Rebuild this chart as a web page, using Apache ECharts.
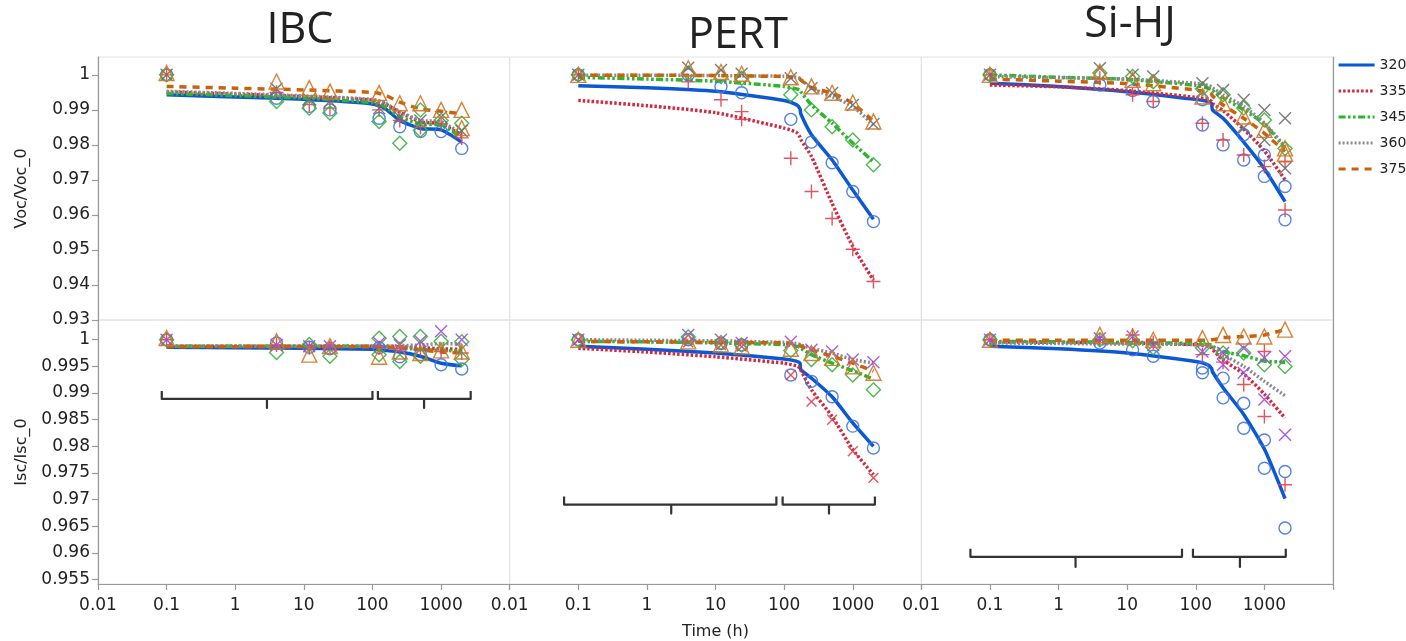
<!DOCTYPE html>
<html><head><meta charset="utf-8">
<script src="https://cdn.jsdelivr.net/npm/echarts@6/dist/echarts.min.js"></script>
<style>html,body{margin:0;padding:0;background:#fff;}#c{width:1406px;height:641px;}</style>
</head><body><div id="c"></div><script>
// ---------- data ----------
const VARIANTS = ['320', '335', '345', '360', '375'];
const PANELS = ['IBC', 'PERT', 'Si-HJ'];
const TIME_PTS = [0.1, 4, 12, 24, 125, 250, 500, 1000, 2000];
const FIT_T_IBC = [0.1, 1, 10, 100, 150, 250, 500, 1000, 2000];
const FIT_T = [0.1, 1, 10, 100, 150, 170, 175, 250, 500, 1000, 2000];
const VOC_TICKS = [0.93, 0.94, 0.95, 0.96, 0.97, 0.98, 0.99, 1.0];
const ISC_TICKS = [0.955, 0.96, 0.965, 0.97, 0.975, 0.98, 0.985, 0.99, 0.995, 1.0];
const VOC_RANGE = [0.93, 1.0051];
const ISC_RANGE = [0.9542, 1.0037];
const X_RANGE = [0.01, 10000];

// measured points (rows: 320, 335, 345, 360, 375; columns follow TIME_PTS)
const IBC_VOC_PTS = [
  [1.0, 0.9933, 0.9910, 0.9900, 0.9876, 0.9852, 0.9838, 0.9838, 0.9790],
  [1.0, 0.9950, 0.9915, 0.9905, 0.9900, 0.9870, 0.9850, 0.9860, 0.9820],
  [1.0, 0.9924, 0.9905, 0.9891, 0.9867, 0.9805, 0.9900, 0.9870, 0.9862],
  [1.0, 0.9960, 0.9930, 0.9925, 0.9905, 0.9880, 0.9870, 0.9880, 0.9840],
  [1.0005, 0.9981, 0.9962, 0.9952, 0.9948, 0.9919, 0.9919, 0.9900, 0.9900]
];
const IBC_VOC_EXTRA = [[4, 2000, 0.9848], [2, 500, 0.9842]];
const IBC_ISC_PTS = [
  [1.0, 0.9994, 0.9986, 0.9983, 0.9985, 0.9968, 0.9972, 0.9953, 0.9945],
  [1.0, 0.9990, 0.9985, 0.9985, 0.9985, 0.9983, 0.9982, 0.9978, 0.9975],
  [1.0, 0.9976, 0.9991, 0.9969, 1.0003, 1.0006, 1.0006, 0.9997, 0.9996],
  [1.0, 0.9990, 0.9988, 0.9988, 0.9994, 0.9990, 0.9997, 1.0016, 1.0],
  [1.0003, 0.9997, 0.9972, 0.9988, 0.9968, 0.9978, 0.9975, 0.9980, 0.9978]
];
const IBC_ISC_EXTRA = [[2, 125, 0.9972], [2, 250, 0.9959], [2, 500, 0.9969], [2, 2000, 0.9963]];
const PERT_VOC_PTS = [
  [1.0, 1.0, 0.9967, 0.9949, 0.9873, 0.9808, 0.9749, 0.9667, 0.9581],
  [1.0, 0.9980, 0.9929, 0.9895, 0.9762, 0.9667, 0.9590, 0.9502, 0.9410],
  [1.0, 1.0005, 0.9995, 0.9990, 0.9943, 0.9900, 0.9852, 0.9814, 0.9743],
  [1.0, 1.0020, 1.0014, 1.0003, 0.9990, 0.9962, 0.9948, 0.9914, 0.9860],
  [1.0, 1.0019, 1.0008, 1.0003, 0.9993, 0.9967, 0.9949, 0.9921, 0.9867]
];
const PERT_VOC_EXTRA = [[1, 24, 0.9873]];
const PERT_ISC_PTS = [
  [1.0, 1.0, 0.9993, 0.9990, 0.9934, 0.9922, 0.9893, 0.9838, 0.9797],
  [1.0, 0.9995, 0.9990, 0.9987, 0.9934, 0.9884, 0.9850, 0.9791, 0.9741],
  [1.0, 1.0005, 0.9995, 0.9990, 0.9980, 0.9963, 0.9953, 0.9934, 0.9906],
  [1.0, 1.0009, 1.0, 0.9994, 0.9996, 0.9981, 0.9978, 0.9963, 0.9958],
  [1.0, 0.9997, 0.9991, 0.9987, 0.9983, 0.9975, 0.9966, 0.9950, 0.9938]
];
const PERT_ISC_EXTRA = [];
const SIHJ_VOC_PTS = [
  [1.0, 0.9971, 0.9955, 0.9924, 0.9929, 0.9800, 0.9829, 0.9771, 0.9681],
  [1.0, 0.9990, 0.9943, 0.9924, 0.9862, 0.9814, 0.9771, 0.9738, 0.9752],
  [1.0, 1.0005, 0.9995, 0.9980, 0.9960, 0.9943, 0.9905, 0.9871, 0.9790],
  [1.0, 1.0019, 1.0000, 0.9995, 0.9976, 0.9957, 0.9929, 0.9900, 0.9876],
  [1.0, 1.0009, 0.9986, 0.9976, 0.9938, 0.9919, 0.9881, 0.9843, 0.9790]
];
const SIHJ_VOC_EXTRA = [[0, 125, 0.9857], [0, 500, 0.9757], [0, 1000, 0.9710], [0, 2000, 0.9586],
  [1, 2000, 0.9614], [1, 2000, 1.0055], [3, 500, 0.9848], [3, 1000, 0.9814], [3, 2000, 0.9733], [4, 2000, 0.9775]];
const SIHJ_ISC_PTS = [
  [1.0, 0.9994, 0.9981, 0.9969, 0.9947, 0.9928, 0.9881, 0.9812, 0.9753],
  [1.0, 1.0, 1.0009, 0.9995, 0.9972, 0.9958, 0.9916, 0.9856, 0.9728],
  [1.0, 1.0, 0.9998, 0.9985, 0.9985, 0.9975, 0.9975, 0.9953, 0.9950],
  [1.0, 1.0003, 1.0006, 0.9990, 0.9978, 0.9975, 0.9984, 0.9966, 0.9969],
  [1.0, 1.0009, 1.0006, 1.0, 1.0003, 1.0009, 1.0006, 1.0006, 1.0019]
];
const SIHJ_ISC_EXTRA = [[0, 125, 0.9938], [0, 250, 0.9891], [0, 500, 0.9834], [0, 1000, 0.9759], [0, 2000, 0.9647],
  [1, 1000, 0.9978], [3, 250, 0.9953], [3, 500, 0.9938], [3, 1000, 0.9888], [3, 2000, 0.9822]];

// fitted curves (rows: 320..375; columns follow FIT_T_IBC / FIT_T)
const IBC_VOC_FIT = [
  [0.9943, 0.9937, 0.9930, 0.9917, 0.9905, 0.9870, 0.9847, 0.9843, 0.9808],
  [0.9951, 0.9945, 0.9938, 0.9928, 0.9918, 0.9893, 0.9866, 0.9860, 0.9828],
  [0.9947, 0.9941, 0.9934, 0.9921, 0.9910, 0.9880, 0.9860, 0.9856, 0.9822],
  [0.9953, 0.9947, 0.9940, 0.9930, 0.9920, 0.9895, 0.9870, 0.9866, 0.9832],
  [0.9967, 0.9962, 0.9957, 0.9950, 0.9943, 0.9922, 0.9903, 0.9896, 0.9889]
];
const IBC_ISC_FIT = [
  [0.9986, 0.9985, 0.9984, 0.9982, 0.9980, 0.9977, 0.9969, 0.9956, 0.9951],
  [0.9988, 0.9988, 0.9988, 0.9988, 0.9988, 0.9987, 0.9985, 0.9983, 0.9982],
  [0.9988, 0.9988, 0.9988, 0.9988, 0.9987, 0.9985, 0.9982, 0.9980, 0.9979],
  [0.9988, 0.9988, 0.9988, 0.9988, 0.9988, 0.9989, 0.9990, 0.9993, 0.9992],
  [0.9987, 0.9987, 0.9987, 0.9987, 0.9986, 0.9984, 0.9981, 0.9977, 0.9975]
];
const PERT_VOC_FIT = [
  [0.9969, 0.9963, 0.9953, 0.9927, 0.9915, 0.9903, 0.9888, 0.9829, 0.9757, 0.9671, 0.9588],
  [0.9927, 0.9912, 0.9892, 0.9848, 0.9836, 0.9822, 0.9815, 0.9767, 0.9633, 0.9510, 0.9414],
  [0.9993, 0.9988, 0.9982, 0.9967, 0.9960, 0.9957, 0.9952, 0.9914, 0.9862, 0.9805, 0.9752],
  [0.9999, 0.9999, 0.9998, 0.9996, 0.9993, 0.9990, 0.9987, 0.9962, 0.9938, 0.9910, 0.9857],
  [0.9999, 0.9999, 0.9998, 0.9995, 0.9991, 0.9988, 0.9985, 0.9964, 0.9948, 0.9919, 0.9867]
];
const PERT_ISC_FIT = [
  [0.9988, 0.9982, 0.9975, 0.9964, 0.9960, 0.9956, 0.9944, 0.9928, 0.9893, 0.9844, 0.9800],
  [0.9984, 0.9977, 0.9968, 0.9956, 0.9951, 0.9947, 0.9943, 0.9906, 0.9856, 0.9794, 0.9747],
  [0.9997, 0.9996, 0.9994, 0.9991, 0.9988, 0.9986, 0.9984, 0.9972, 0.9956, 0.9942, 0.9926],
  [1.0000, 0.9999, 0.9998, 0.9995, 0.9993, 0.9991, 0.9990, 0.9984, 0.9975, 0.9963, 0.9956],
  [0.9997, 0.9996, 0.9995, 0.9994, 0.9992, 0.9990, 0.9988, 0.9981, 0.9969, 0.9956, 0.9941]
];
const SIHJ_VOC_FIT = [
  [0.9976, 0.9967, 0.9952, 0.9930, 0.9924, 0.9918, 0.9900, 0.9876, 0.9808, 0.9732, 0.9638],
  [0.9971, 0.9966, 0.9955, 0.9936, 0.9930, 0.9924, 0.9918, 0.9898, 0.9845, 0.9783, 0.9700],
  [1.0000, 0.9993, 0.9987, 0.9970, 0.9962, 0.9958, 0.9955, 0.9935, 0.9900, 0.9860, 0.9790],
  [0.9995, 0.9992, 0.9988, 0.9976, 0.9970, 0.9966, 0.9963, 0.9943, 0.9910, 0.9862, 0.9795],
  [0.9988, 0.9982, 0.9975, 0.9957, 0.9950, 0.9945, 0.9940, 0.9914, 0.9876, 0.9833, 0.9781]
];
const SIHJ_ISC_FIT = [
  [0.9988, 0.9983, 0.9975, 0.9959, 0.9953, 0.9946, 0.9940, 0.9910, 0.9860, 0.9795, 0.9702],
  [0.9996, 0.9995, 0.9994, 0.9991, 0.9988, 0.9985, 0.9982, 0.9962, 0.9936, 0.9898, 0.9853],
  [0.9997, 0.9996, 0.9995, 0.9993, 0.9991, 0.9990, 0.9988, 0.9978, 0.9970, 0.9960, 0.9958],
  [0.9994, 0.9993, 0.9992, 0.9991, 0.9989, 0.9987, 0.9985, 0.9972, 0.9950, 0.9922, 0.9895],
  [0.9999, 0.9999, 0.9999, 0.9999, 0.9999, 1.0000, 1.0000, 1.0004, 1.0006, 1.0009, 1.0019]
];

// bracket annotations in the Isc panels: [start, middle, end] times and [end, bar, tip] levels
const IBC_BRACKETS = [[0.085, 2.9, 100], [120, 565, 2700]];
const IBC_BRACKET_Y = [0.9904, 0.9889, 0.9872];
const PERT_BRACKETS = [[0.062, 2.26, 77], [95, 450, 2100]];
const PERT_BRACKET_Y = [0.9706, 0.9691, 0.9674];
const SIHJ_BRACKETS = [[0.052, 1.77, 63], [91, 440, 2050]];
const SIHJ_BRACKET_Y = [0.9608, 0.9593, 0.9574];

// ---------- styles / layout ----------
const COL_LEFT = [98, 509.7, 921.3];
const COL_W = 411.7;
const ROW_TOP = [57, 320];
const ROW_H = [263, 264];
const LINE_COLORS = ['#0b58d4', '#d3283e', '#2db52d', '#8a8a8a', '#c8630c'];
const LINE_DASH = ['solid', [2.5, 2], [7, 2.5, 2.5, 2.5, 2.5, 2.5], [2, 2], [7, 6]];
const MARK_TOP = ['#4173e0', '#e0414f', '#39b23c', '#6e6e6e', '#d47526'];
const MARK_BOT = ['#4173e0', '#e0414f', '#39b23c', '#a24ae0', '#d47526'];
const SYMBOLS = ['circle', 'path://M0,6L12,6M6,0L6,12', 'diamond', 'path://M0,0L12,12M12,0L0,12', 'triangle'];
const SYM_SIZE = [12, 14, 14, 12, 15];
const FONT = 'DejaVu Sans';

const PANEL_DATA = [
  {pts: IBC_VOC_PTS, extra: IBC_VOC_EXTRA, fit: IBC_VOC_FIT, fitT: FIT_T_IBC},
  {pts: PERT_VOC_PTS, extra: PERT_VOC_EXTRA, fit: PERT_VOC_FIT, fitT: FIT_T},
  {pts: SIHJ_VOC_PTS, extra: SIHJ_VOC_EXTRA, fit: SIHJ_VOC_FIT, fitT: FIT_T},
  {pts: IBC_ISC_PTS, extra: IBC_ISC_EXTRA, fit: IBC_ISC_FIT, fitT: FIT_T_IBC, br: IBC_BRACKETS, brY: IBC_BRACKET_Y},
  {pts: PERT_ISC_PTS, extra: PERT_ISC_EXTRA, fit: PERT_ISC_FIT, fitT: FIT_T, br: PERT_BRACKETS, brY: PERT_BRACKET_Y, rot335: 45},
  {pts: SIHJ_ISC_PTS, extra: SIHJ_ISC_EXTRA, fit: SIHJ_ISC_FIT, fitT: FIT_T, br: SIHJ_BRACKETS, brY: SIHJ_BRACKET_Y}
];

const fmtY = v => String(+(+v).toFixed(3));
const fmtX = v => (v > 5000 ? '' : String(+(+v).toPrecision(4)));

const grids = [], xAxes = [], yAxes = [], series = [];
for (let r = 0; r < 2; r++) {
  for (let c = 0; c < 3; c++) {
    const g = r * 3 + c;
    grids.push({left: COL_LEFT[c], width: COL_W, top: ROW_TOP[r], height: ROW_H[r],
      show: true, borderColor: '#e2e2e2', borderWidth: 1, containLabel: false, outerBoundsMode: 'none'});
    xAxes.push({
      gridIndex: g, type: 'log', logBase: 10, min: X_RANGE[0], max: X_RANGE[1], splitNumber: 6,
      axisLine: {show: r === 1, onZero: false, lineStyle: {color: '#999', width: 1.2}},
      axisTick: {show: r === 1, length: 6, lineStyle: {color: '#999', width: 1.2}},
      axisLabel: {show: r === 1, margin: 13, fontFamily: FONT, fontSize: 17, color: '#222', formatter: fmtX,
        showMinLabel: true, showMaxLabel: true, hideOverlap: false},
      splitLine: {show: false}, minorTick: {show: false},
      name: (r === 1 && c === 1) ? 'Time (h)' : '', nameLocation: 'middle', nameGap: 40,
      nameTextStyle: {fontFamily: FONT, fontSize: 16, color: '#222'}
    });
    const ticks = r === 0 ? VOC_TICKS : ISC_TICKS;
    const range = r === 0 ? VOC_RANGE : ISC_RANGE;
    yAxes.push({
      gridIndex: g, type: 'value', min: range[0], max: range[1], position: c === 2 ? 'right' : 'left',
      axisLine: {show: c !== 1, onZero: false, lineStyle: {color: '#999', width: 1.2}},
      axisTick: {show: c === 0, length: 6, customValues: ticks, lineStyle: {color: '#999', width: 1.2}},
      axisLabel: {show: c === 0, customValues: ticks, formatter: fmtY, fontFamily: FONT, fontSize: 17,
        color: '#222', margin: 8, hideOverlap: false},
      splitLine: {show: false},
      name: c === 0 ? (r === 0 ? 'Voc/Voc_0' : 'Isc/Isc_0') : '', nameLocation: 'middle', nameGap: 68,
      nameTextStyle: {fontFamily: FONT, fontSize: 16, color: '#222'}
    });
    const pd = PANEL_DATA[g];
    // fit lines
    for (let s = 0; s < 5; s++) {
      series.push({
        name: VARIANTS[s], type: 'line', xAxisIndex: g, yAxisIndex: g,
        data: pd.fitT.map((t, k) => [t, pd.fit[s][k]]),
        symbol: 'none', smooth: 0.2, z: 2, silent: true,
        lineStyle: {color: LINE_COLORS[s], width: 3.5, type: LINE_DASH[s], cap: 'butt'},
        itemStyle: {color: LINE_COLORS[s]}
      });
    }
    // measured markers
    const markCols = r === 0 ? MARK_TOP : MARK_BOT;
    for (let s = 0; s < 5; s++) {
      const data = TIME_PTS.map((t, k) => [t, pd.pts[s][k]]);
      pd.extra.filter(e => e[0] === s).forEach(e => data.push([e[1], e[2]]));
      series.push({
        name: 'pts ' + VARIANTS[s], type: 'scatter', xAxisIndex: g, yAxisIndex: g, data,
        symbol: SYMBOLS[s], symbolSize: SYM_SIZE[s], z: 3, silent: true,
        symbolRotate: (s === 1 && pd.rot335) ? pd.rot335 : 0,
        itemStyle: {color: 'rgba(255,255,255,0)', borderColor: markCols[s], borderWidth: 1.4, opacity: 0.9}
      });
    }
    // brackets
    if (pd.br) {
      pd.br.forEach(b => {
        const [yE, yB, yT] = pd.brY;
        series.push({
          type: 'line', xAxisIndex: g, yAxisIndex: g, symbol: 'none', silent: true, z: 1,
          data: [[b[0], yE], [b[0], yB], [b[1], yB], [b[1], yT], [b[1], yB], [b[2], yB], [b[2], yE]],
          lineStyle: {color: '#333', width: 2.2, join: 'round'}
        });
      });
    }
  }
}

const TITLE_POS = [[300, 31], [738, 36], [1130, 25]];
const graphic = PANELS.map((p, i) => ({
  type: 'text', x: TITLE_POS[i][0], y: TITLE_POS[i][1], silent: true,
  style: {text: p, fontFamily: 'Open Sans', fontSize: 43, fill: '#222', align: 'center', verticalAlign: 'middle'}
}));

const chart = echarts.init(document.getElementById('c'), null, {renderer: 'canvas'});
chart.setOption({
  animation: false,
  backgroundColor: '#fff',
  grid: grids, xAxis: xAxes, yAxis: yAxes,
  legend: {
    data: VARIANTS, orient: 'vertical', left: 1337, top: 58, padding: 0,
    itemWidth: 36, itemHeight: 14, itemGap: 12, selectedMode: false,
    itemStyle: {opacity: 0},
    lineStyle: {width: 3.2},
    textStyle: {fontFamily: FONT, fontSize: 14, color: '#222'}
  },
  graphic,
  series
});
</script></body></html>
